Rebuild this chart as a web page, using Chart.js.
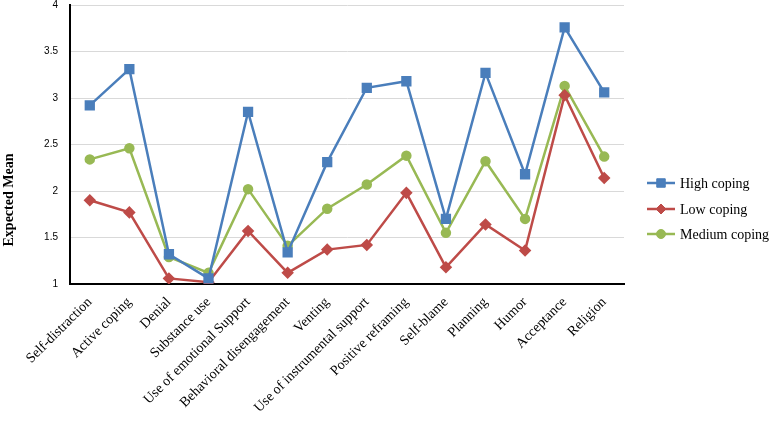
<!DOCTYPE html>
<html>
<head>
<meta charset="utf-8">
<script src="https://cdn.jsdelivr.net/npm/chart.js@4.4.0/dist/chart.umd.min.js"></script>
<style>
  html, body { margin: 0; padding: 0; background: #fff; overflow: hidden; }
  #wrap { width: 772px; height: 426px; position: relative; top: -3px; }
</style>
</head>
<body>
<div id="wrap"><canvas id="copingChart"></canvas></div>
<script>
// Datos
const categories = ['Self-distraction', 'Active coping', 'Denial', 'Substance use', 'Use of emotional Support',
    'Behavioral disengagement', 'Venting', 'Use of instrumental support', 'Positive reframing', 'Self-blame',
    'Planning', 'Humor', 'Acceptance', 'Religion'];
const highCoping = [2.92, 3.31, 1.32, 1.06, 2.85, 1.34, 2.31, 3.11, 3.18, 1.70, 3.27, 2.18, 3.76, 3.06];
const lowCoping = [1.90, 1.77, 1.06, 1.02, 1.57, 1.12, 1.37, 1.42, 1.98, 1.18, 1.64, 1.36, 3.03, 2.14];
const mediumCoping = [2.34, 2.46, 1.29, 1.12, 2.02, 1.41, 1.81, 2.07, 2.38, 1.55, 2.32, 1.70, 3.13, 2.37];
const yTicks = [1, 1.5, 2, 2.5, 3, 3.5, 4];

const BLUE = '#4a7ebb';
const RED = '#be4b48';
const GREEN = '#98b954';
const SERIF = '"Liberation Serif", "Times New Roman", serif';

// Leyenda y título del eje dibujados a mano (canvas desplazado 3px hacia arriba)
const sideLegend = {
    id: 'sideLegend',
    afterDraw(chart) {
        const ctx = chart.ctx;
        const x0 = 647, x1 = 675, tx = 680;
        const rows = [186, 212, 237];
        chart.data.datasets.forEach((ds, i) => {
            const y = rows[i];
            ctx.save();
            ctx.strokeStyle = ds.borderColor;
            ctx.lineWidth = 2.5;
            ctx.beginPath();
            ctx.moveTo(x0, y);
            ctx.lineTo(x1, y);
            ctx.stroke();
            ctx.fillStyle = ds.borderColor;
            ctx.strokeStyle = ds.borderColor;
            ctx.lineWidth = 1;
            Chart.helpers.drawPoint(ctx, { pointStyle: ds.pointStyle, radius: ds.pointRadius + 0.5, borderWidth: 1 }, (x0 + x1) / 2, y);
            ctx.fillStyle = '#000';
            ctx.font = '14px ' + SERIF;
            ctx.textBaseline = 'middle';
            ctx.fillText(ds.label, tx, y + 1);
            ctx.restore();
        });
        // título eje Y
        ctx.save();
        ctx.translate(9, 203);
        ctx.rotate(-Math.PI / 2);
        ctx.fillStyle = '#000';
        ctx.font = 'bold 14px ' + SERIF;
        ctx.textAlign = 'center';
        ctx.textBaseline = 'middle';
        ctx.fillText('Expected Mean', 0, 0);
        ctx.restore();
    }
};

const ctx = document.getElementById('copingChart').getContext('2d');
const copingChart = new Chart(ctx, {
    type: 'line',
    data: {
        labels: categories,
        datasets: [
            {
                label: 'High coping',
                data: highCoping,
                borderColor: BLUE,
                backgroundColor: BLUE,
                pointStyle: 'rect',
                pointRadius: 5.5,
                borderWidth: 2.5
            },
            {
                label: 'Low coping',
                data: lowCoping,
                borderColor: RED,
                backgroundColor: RED,
                pointStyle: 'rectRot',
                pointRadius: 4.5,
                borderWidth: 2.5
            },
            {
                label: 'Medium coping',
                data: mediumCoping,
                borderColor: GREEN,
                backgroundColor: GREEN,
                pointStyle: 'circle',
                pointRadius: 4,
                borderWidth: 2.5
            }
        ]
    },
    options: {
        responsive: true,
        maintainAspectRatio: false,
        animation: false,
        layout: {
            padding: { left: 0, right: 148, top: 0, bottom: 0 }
        },
        plugins: {
            legend: { display: false },
            tooltip: { enabled: false }
        },
        scales: {
            x: {
                offset: true,
                grid: { display: false },
                border: { display: true, color: '#000', width: 2 },
                ticks: {
                    autoSkip: false,
                    maxRotation: 45,
                    minRotation: 45,
                    padding: 2,
                    color: '#000',
                    font: { family: SERIF, size: 14 }
                },
                afterFit(scale) { scale.height = 139; }
            },
            y: {
                min: 1,
                max: 4,
                afterBuildTicks(scale) { scale.ticks = yTicks.map(v => ({ value: v })); },
                grid: { color: '#d9d9d9', lineWidth: 1, drawTicks: false },
                border: { display: true, color: '#000', width: 2 },
                ticks: {
                    padding: 12,
                    color: '#000',
                    callback: v => String(v),
                    font: { family: '"Liberation Sans", Arial, sans-serif', size: 10 }
                },
                afterFit(scale) {
                    scale.width = 70;
                    scale.paddingTop = 0;
                    scale.paddingBottom = 0;
                }
            }
        }
    },
    plugins: [sideLegend]
});
</script>
</body>
</html>
